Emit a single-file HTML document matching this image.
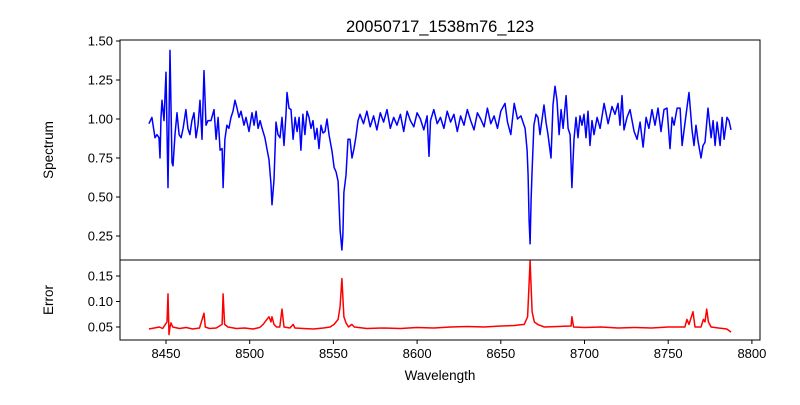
<!DOCTYPE html>
<html><head><meta charset="utf-8"><style>
body{margin:0;background:#fff}
svg text{font-family:"Liberation Sans",sans-serif;fill:#000}
</style></head><body>
<svg id="chart" width="800" height="400" xmlns="http://www.w3.org/2000/svg">
<text x="440" y="32" font-size="16.5" text-anchor="middle">20050717_1538m76_123</text>
<g id="topAxes"></g>
<g id="botAxes"></g>
<text transform="translate(53,150) rotate(-90)" font-size="13.5" text-anchor="middle">Spectrum</text>
<text transform="translate(53,300) rotate(-90)" font-size="13.5" text-anchor="middle">Error</text>
<text x="440" y="380" font-size="13.5" text-anchor="middle">Wavelength</text>
</svg>
<script>
const fluxWave=[8439.8,8441.6,8443.4,8444.6,8445.8,8446.4,8447.0,8447.6,8448.8,8450.0,8451.2,8452.4,8453.6,8454.2,8455.4,8456.6,8457.8,8459.0,8460.2,8461.9,8463.1,8464.3,8465.5,8466.7,8467.9,8469.1,8470.3,8471.5,8472.7,8473.9,8475.1,8476.9,8478.7,8479.9,8481.1,8482.3,8483.5,8484.1,8485.2,8486.4,8487.6,8488.8,8490.0,8491.2,8492.4,8493.6,8494.8,8496.6,8497.8,8499.6,8501.4,8502.6,8503.8,8505.0,8506.2,8507.4,8509.1,8510.3,8511.5,8512.7,8513.3,8514.5,8515.7,8516.9,8518.1,8519.3,8520.5,8521.7,8522.3,8523.5,8524.7,8525.9,8527.1,8528.3,8529.5,8530.6,8531.8,8533.0,8534.2,8535.4,8536.6,8537.8,8539.0,8540.2,8541.4,8542.6,8543.8,8545.0,8546.2,8547.4,8549.2,8550.4,8551.6,8552.8,8554.0,8555.1,8555.7,8556.3,8557.5,8558.7,8559.9,8561.1,8562.3,8563.5,8564.7,8565.9,
8568,8570,8572,8574,8576,8578,8580,8582,8584,8586,8588,8590,8592,8594,8596,8598,8600,8602,8604,8606,8607.1,8608,8610,8612,8614,8616,8618,8620,8622,8624,8626,8628,8630,8632,8634,8636,8638,8640,8642,8644,8646,8648,8650,8652.5,8654,8656,8658,8660,8662,
8664.5,8665.7,8666.3,8666.9,8667.5,8668.1,8668.7,8669.8,8671.0,8672.2,8673.4,8675.8,8677.0,8678.2,8680.0,8681.2,8682.4,8683.6,8684.8,8686.0,8687.2,8689.0,8690.2,8691.4,8692.5,8693.7,8694.9,8696.1,8697.3,8698.5,8699.7,8700.9,8702.1,8703.3,8704.5,8705.7,8707.5,8709.3,8711.7,8714.1,8716.4,8718.2,8720.0,8721.2,8722.4,8723.6,8725.4,8727.2,8729.6,8731.4,8733.2,8735.0,8736.8,8738.5,8740.3,8742.1,8743.9,8745.7,8747.5,8749.3,8751.1,8752.3,8753.5,8755.3,8757.1,8758.3,8760.1,8761.2,8762.4,8764.2,8765.4,8766.6,8767.8,8769.6,8770.8,8772.0,8773.8,8775.6,8776.8,8778.0,8779.2,8781.0,8782.2,8783.4,8785.1,8786.3,8787.5];
const fluxVal=[0.97,1.01,0.88,0.90,0.88,0.75,1.01,1.12,0.99,1.30,0.56,1.44,0.72,0.70,0.90,1.04,0.90,0.88,0.94,1.06,0.94,0.90,0.99,1.04,0.88,0.96,1.12,0.87,1.31,0.96,0.99,0.99,1.06,0.87,1.01,0.80,0.81,0.56,0.87,0.96,0.94,1.01,1.05,1.12,1.07,1.01,1.05,0.96,1.01,0.92,1.04,0.96,1.05,0.94,0.99,0.94,0.88,0.81,0.74,0.58,0.45,0.61,0.98,0.90,0.88,1.01,0.83,1.03,1.17,1.07,1.06,0.87,1.01,0.92,1.01,0.80,1.03,0.90,1.05,1.01,0.94,0.99,0.87,0.94,0.81,0.96,0.91,0.92,1.00,0.90,0.79,0.69,0.66,0.60,0.29,0.16,0.26,0.53,0.64,0.87,0.87,0.75,0.81,0.89,0.99,1.03,
0.97,1.05,0.95,1.02,0.93,1.04,0.98,1.06,0.94,1.01,0.96,1.03,0.92,1.05,0.99,0.95,1.04,1.00,0.93,1.02,0.76,0.99,1.06,0.97,1.01,0.94,1.05,0.98,1.03,0.92,1.02,0.96,1.06,0.99,0.93,1.04,1.00,0.95,1.07,0.97,1.02,0.94,1.05,1.10,0.98,0.90,1.10,1.00,1.02,
0.94,0.80,0.64,0.35,0.20,0.48,0.67,0.96,1.03,1.01,0.90,1.09,0.98,0.90,0.75,1.09,1.21,1.12,0.90,1.06,0.94,1.15,0.94,0.90,0.56,0.87,1.01,0.88,1.02,0.96,1.03,0.88,1.05,0.83,0.99,0.90,1.01,0.94,1.10,0.97,1.08,1.03,1.10,0.96,1.15,0.93,1.01,1.06,0.92,0.87,0.98,0.82,1.01,0.94,1.06,0.96,1.07,0.92,1.06,1.07,0.81,1.01,0.96,1.07,1.07,0.83,0.98,1.07,1.17,0.93,0.83,0.96,0.86,0.75,0.83,0.85,1.07,0.88,0.99,0.83,0.98,0.83,1.01,0.87,1.01,0.99,0.93];
const errWave=[8439.8,8443,8446,8448,8450.6,8451.2,8451.8,8452.4,8453,8454,8458,8462,8466,8470,8472.7,8473.5,8476,8480,8483.5,8484.1,8485,8487,8492,8497,8502,8506,8508,8510.3,8511.5,8512.7,8513.3,8514.5,8516,8518,8519.3,8520.5,8524,8526,8527,8532,8538,8544,8548,8550.4,8552.8,8554,8555.1,8556.3,8557.5,8559,8561,8562.5,8570,8580,8590,8600,8610,8620,8630,8640,8650,8658,8664,8666,8667.5,8668.7,8670,8672,8676,8684,8692,8692.5,8693.5,8700,8710,8720,8730,8740,8750,8760,8761.2,8762.4,8764.8,8766,8769.6,8771,8772,8773,8774,8775.6,8780,8785,8787.5];
const errVal=[0.046,0.048,0.050,0.047,0.060,0.115,0.035,0.050,0.058,0.050,0.047,0.049,0.046,0.048,0.077,0.050,0.047,0.048,0.055,0.115,0.055,0.050,0.047,0.048,0.046,0.049,0.055,0.065,0.070,0.060,0.070,0.055,0.050,0.050,0.085,0.050,0.048,0.055,0.048,0.047,0.046,0.048,0.050,0.055,0.065,0.090,0.145,0.070,0.058,0.050,0.055,0.050,0.047,0.048,0.047,0.049,0.048,0.050,0.051,0.050,0.052,0.053,0.055,0.070,0.180,0.080,0.060,0.055,0.050,0.051,0.052,0.070,0.050,0.049,0.050,0.048,0.049,0.048,0.050,0.050,0.065,0.055,0.080,0.050,0.050,0.065,0.060,0.085,0.060,0.050,0.048,0.046,0.040];
const xTicks=[8450,8500,8550,8600,8650,8700,8750,8800];
const topTicks=[0.25,0.50,0.75,1.00,1.25,1.50];
const botTicks=[0.05,0.10,0.15];

const L=120,R=760,T1=40,B1=260,B2=340;
const xs=w=>166+(w-8450)*1.674;
const ys=v=>119-(v-1)*156;
const ye=v=>327-(v-0.05)*510;
const NS='http://www.w3.org/2000/svg';
function mk(tag,parent,attrs){const e=document.createElementNS(NS,tag);for(const k in attrs)e.setAttribute(k,attrs[k]);parent.appendChild(e);return e;}
const topG=document.getElementById('topAxes'),botG=document.getElementById('botAxes');

let p=mk('polyline',topG,{points:fluxWave.map((w,i)=>xs(w).toFixed(1)+','+ys(fluxVal[i]).toFixed(1)).join(' '),fill:'none',stroke:'#0000ff','stroke-width':1.5,'stroke-linejoin':'round'});


let q=mk('polyline',botG,{points:errWave.map((w,i)=>xs(w).toFixed(1)+','+ye(errVal[i]).toFixed(1)).join(' '),fill:'none',stroke:'#ff0000','stroke-width':1.5,'stroke-linejoin':'round'});



let f1=mk('rect',topG,{x:L,y:T1,width:R-L,height:B1-T1,fill:'none',stroke:'#000','stroke-width':1});


let f2=mk('rect',botG,{x:L,y:B1,width:R-L,height:B2-B1,fill:'none',stroke:'#000','stroke-width':1});



topTicks.forEach(v=>{const y=ys(v);
 let t=mk('line',topG,{x1:L-4,x2:L,y1:y,y2:y,stroke:'#000'});
 
 
 let tx=mk('text',topG,{x:L-7,y:y+4.5,'font-size':13,'text-anchor':'end'});tx.textContent=v.toFixed(2);
 
 });
botTicks.forEach(v=>{const y=ye(v);
 let t=mk('line',botG,{x1:L-4,x2:L,y1:y,y2:y,stroke:'#000'});
 
 
 let tx=mk('text',botG,{x:L-7,y:y+4.5,'font-size':13,'text-anchor':'end'});tx.textContent=v.toFixed(2);
 
 });
xTicks.forEach(w=>{const x=xs(w);
 let t=mk('line',botG,{x1:x,x2:x,y1:B2,y2:B2+4,stroke:'#000'});
 
 
 let tx=mk('text',botG,{x:x,y:B2+18,'font-size':13,'text-anchor':'middle'});tx.textContent=w;
 
 });
</script>
</body></html>
